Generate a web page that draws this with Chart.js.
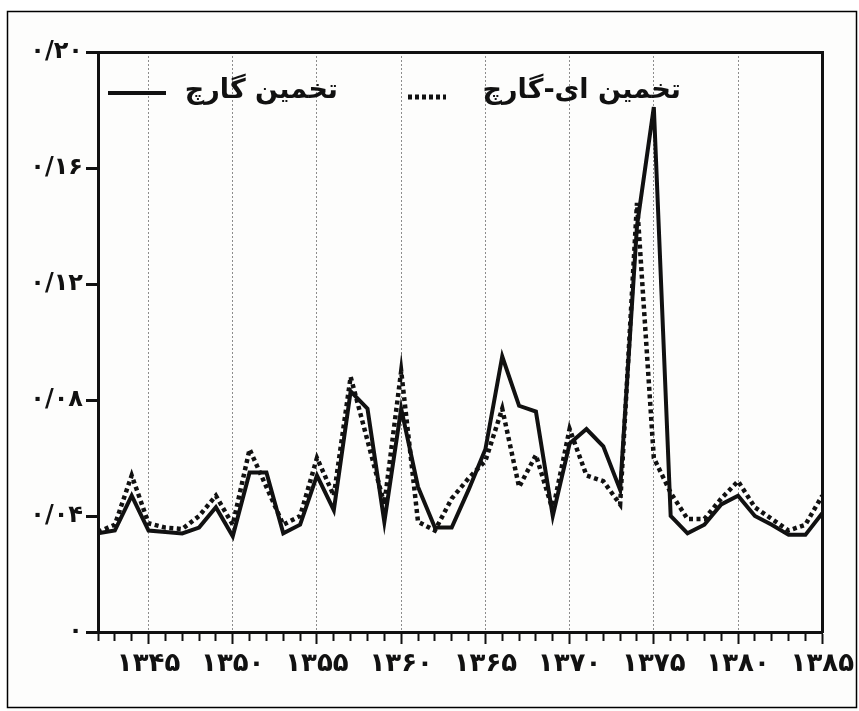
<!DOCTYPE html>
<html>
<head>
<meta charset="utf-8">
<script src="https://cdn.jsdelivr.net/npm/chart.js@4.4.1/dist/chart.umd.min.js"></script>
<style>
  html, body { margin: 0; background: #fff; }
</style>
</head>
<body>
<canvas id="chart" width="859" height="711"></canvas>
<script>
// years (solar hijri) on the x axis
const years = [1342, 1343, 1344, 1345, 1346, 1347, 1348, 1349, 1350, 1351, 1352,
  1353, 1354, 1355, 1356, 1357, 1358, 1359, 1360, 1361, 1362, 1363, 1364, 1365,
  1366, 1367, 1368, 1369, 1370, 1371, 1372, 1373, 1374, 1375, 1376, 1377, 1378,
  1379, 1380, 1381, 1382, 1383, 1384, 1385];

// GARCH estimate (solid)
const garch = [0.034, 0.035, 0.047, 0.035, 0.0345, 0.034, 0.036, 0.043, 0.033, 0.055, 0.055,
  0.034, 0.037, 0.054, 0.042, 0.083, 0.077, 0.038, 0.077, 0.050, 0.036, 0.036, 0.049, 0.063,
  0.095, 0.078, 0.076, 0.040, 0.065, 0.070, 0.064, 0.049, 0.140, 0.181, 0.040, 0.034, 0.037,
  0.044, 0.047, 0.040, 0.037, 0.0335, 0.0335, 0.041];

// E-GARCH estimate (dotted)
const egarch = [0.0345, 0.037, 0.054, 0.0375, 0.036, 0.0355, 0.040, 0.047, 0.037, 0.063, 0.050,
  0.037, 0.040, 0.060, 0.047, 0.088, 0.066, 0.044, 0.090, 0.038, 0.035, 0.046, 0.053, 0.059,
  0.077, 0.050, 0.061, 0.042, 0.070, 0.054, 0.052, 0.044, 0.148, 0.060, 0.048, 0.039, 0.039,
  0.046, 0.052, 0.043, 0.039, 0.035, 0.037, 0.047];

const seriesLabels = ['تخمین گارچ', 'تخمین ای-گارچ'];
const yTicks = [0, 0.04, 0.08, 0.12, 0.16, 0.20];

const faDigits = '۰۱۲۳۴۵۶۷۸۹';
const toFa = s => String(s).replace(/[0-9]/g, d => faDigits[d]);

const FONT = '"DejaVu Sans", sans-serif';

const toPoints = arr => arr.map((v, i) => ({ x: years[i], y: v }));

// outer frame of the figure
const framePlugin = {
  id: 'frame',
  beforeDraw(chart) {
    const ctx = chart.ctx;
    ctx.save();
    ctx.fillStyle = '#fdfdfc';
    ctx.fillRect(7, 11, 850, 700);
    ctx.strokeStyle = '#000';
    ctx.lineWidth = 1.5;
    ctx.strokeRect(7.5, 11.5, 849, 696);
    ctx.restore();
  }
};

// legend drawn inside the plot, rtl style (sample left of text)
const legendPlugin = {
  id: 'faLegend',
  afterDraw(chart) {
    const ctx = chart.ctx;
    const items = [
      { ds: 0, x0: 108, x1: 166, y: 93, textRight: 338, w: 4 },
      { ds: 1, x0: 408, x1: 446, y: 97, textRight: 681, w: 5 }
    ];
    ctx.save();
    items.forEach(it => {
      const ds = chart.data.datasets[it.ds];
      ctx.strokeStyle = ds.borderColor;
      ctx.lineWidth = it.w;
      ctx.setLineDash([4, 3]);
      if (!ds.borderDash) ctx.setLineDash([]);
      ctx.beginPath();
      ctx.moveTo(it.x0, it.y);
      ctx.lineTo(it.x1, it.y);
      ctx.stroke();
      ctx.setLineDash([]);
      ctx.fillStyle = '#111';
      ctx.font = 'bold 27px ' + FONT;
      ctx.textAlign = 'right';
      ctx.textBaseline = 'middle';
      ctx.fillText(ds.label, it.textRight, 91);
    });
    ctx.restore();
  }
};

new Chart(document.getElementById('chart'), {
  type: 'line',
  data: {
    datasets: [
      {
        label: seriesLabels[0],
        data: toPoints(garch),
        borderColor: '#111',
        borderWidth: 4,
        pointRadius: 0,
        tension: 0,
        order: 0
      },
      {
        label: seriesLabels[1],
        data: toPoints(egarch),
        borderColor: '#111',
        borderWidth: 4.5,
        borderDash: [4, 3.5],
        borderCapStyle: 'butt',
        pointRadius: 0,
        tension: 0,
        order: 1
      }
    ]
  },
  options: {
    responsive: false,
    animation: false,
    devicePixelRatio: 1,
    layout: { padding: { left: 0, top: 52, right: 36, bottom: 0 } },
    plugins: {
      legend: { display: false },
      tooltip: { enabled: false }
    },
    scales: {
      x: {
        type: 'linear',
        position: 'bottom',
        min: years[0],
        max: years[years.length - 1],
        afterFit: s => { s.height = 79; },
        ticks: {
          stepSize: 1,
          autoSkip: false,
          maxRotation: 0,
          padding: 5,
          color: '#111',
          font: { family: FONT, size: 26, weight: 'bold' },
          callback: v => (v % 5 === 0 ? toFa(v) : '')
        },
        grid: {
          color: c => (c.tick && c.tick.value % 5 === 0 && c.tick.value !== years[0] && c.tick.value !== years[years.length - 1]) ? '#8c8c8c' : 'rgba(0,0,0,0)',
          lineWidth: 1,
          tickLength: 12,
          tickWidth: 2,
          tickColor: '#111',
          tickBorderDash: c => (c.tick && c.tick.value % 5 === 0) ? [] : [7, 20]
        },
        border: { display: true, color: '#111', width: 3, dash: [2, 2] }
      },
      xTop: {
        type: 'linear',
        position: 'top',
        min: years[0],
        max: years[years.length - 1],
        afterFit: s => { s.height = 0; },
        ticks: { display: false },
        grid: { display: false, drawTicks: false },
        border: { display: true, color: '#111', width: 3 }
      },
      y: {
        position: 'left',
        min: 0,
        max: 0.2,
        afterFit: s => { s.width = 98; },
        afterBuildTicks: s => { s.ticks = yTicks.map(v => ({ value: v })); },
        ticks: {
          padding: 3,
          color: '#111',
          font: { family: FONT, size: 24, weight: 'bold' },
          callback: v => v === 0 ? '۰' : '۰/' + toFa(String(Math.round(v * 100)).padStart(2, '0'))
        },
        grid: {
          drawOnChartArea: false,
          tickLength: 12,
          tickWidth: 3,
          tickColor: '#111'
        },
        border: { display: true, color: '#111', width: 3 }
      },
      yRight: {
        position: 'right',
        min: 0,
        max: 0.2,
        afterFit: s => { s.width = 0; },
        ticks: { display: false },
        grid: { display: false, drawTicks: false },
        border: { display: true, color: '#111', width: 3 }
      }
    }
  },
  plugins: [framePlugin, legendPlugin]
});
</script>
</body>
</html>
